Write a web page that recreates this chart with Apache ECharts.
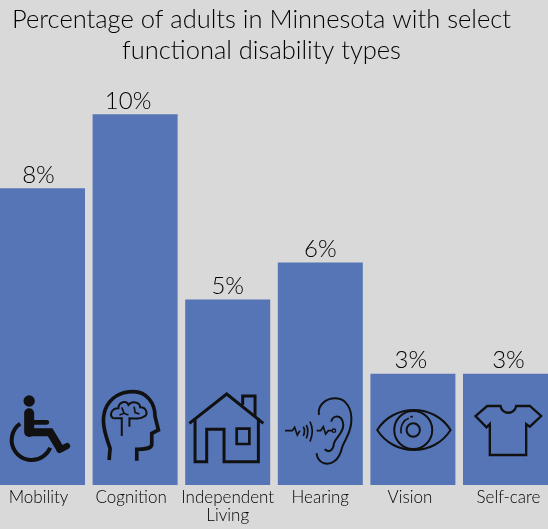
<!DOCTYPE html>
<html>
<head>
<meta charset="utf-8">
<style>
  html, body { margin: 0; padding: 0; background: #d9d9d9; }
  #chart { width: 548px; height: 529px; }
</style>
<script src="https://cdn.jsdelivr.net/npm/echarts@6/dist/echarts.min.js"></script>
</head>
<body>
<div id="chart"></div>
<script>
const categories = ['Mobility', 'Cognition', 'Independent\nLiving', 'Hearing', 'Vision', 'Self-care'];
const percents = [8, 10, 5, 6, 3, 3];

// icons are traced at 3x, origin = point on the baseline under the bar centre
const icons = [
  { origin: [127, 345], parts: [
    { d: 'M70,93 A17,17 0 1 1 104,93 A17,17 0 1 1 70,93 Z', fill: true },
    { d: 'M87,130 L87,186', w: 30, round: true },
    { d: 'M95,157 L140,157', w: 14, round: true },
    { d: 'M87,187 L150,187 L181,238', w: 24 },
    { d: 'M178,240 L201,228', w: 18, round: true },
    { d: 'M60,161 A60,60 0 1 0 150,233', w: 12 }
  ]},
  { origin: [405, 345], parts: [
    { d: 'M327,270 L330,235 C310,180 305,150 315,120 C330,80 365,65 400,65 C440,65 465,100 465,140 L475,180 L455,190 L455,225 C450,238 430,238 410,238 L410,272', w: 11 },
    { d: 'M340,145 C325,135 335,115 355,115 C355,95 380,90 385,105 C395,92 420,95 420,112 C442,112 445,138 430,140 C420,148 400,145 388,145 L388,170', w: 6 },
    { d: 'M365,198 L365,145 L340,145', w: 6 },
    { d: 'M365,112 L372,130 M358,135 L372,130 L385,135 M402,110 L405,128 L418,132', w: 5 }
  ]},
  { origin: [683, 345], parts: [
    { d: 'M568,160 L680,72 L790,160', w: 9 },
    { d: 'M728,105 L728,78 L765,78 L765,140', w: 9 },
    { d: 'M585,145 L585,275 L620,275 L620,178 L672,178 L672,275 L775,275 L775,145', w: 9 },
    { d: 'M710,176 L748,176 L748,222 L710,222 Z', w: 8 }
  ]},
  { origin: [139, 405], parts: [
    { d: 'M135,195 C130,165 155,145 185,145 C215,145 235,175 232,215 C230,250 215,265 205,290 C195,335 170,345 150,340 C135,335 128,320 128,310', w: 6 },
    { d: 'M172,215 C175,195 205,190 208,225 C208,250 185,262 180,280 C178,300 165,310 152,298', w: 6 },
    { d: 'M33,242 L55,242 L62,232 L70,255 L78,242', w: 5 },
    { d: 'M88,230 Q95,242 88,258 M97,225 Q106,242 97,265 M108,215 Q122,242 108,275', w: 5 },
    { d: 'M128,242 L140,242 L148,230 L155,252 L163,242 L175,242', w: 5 },
    { d: 'M175,242 A5,5 0 1 1 185,242 A5,5 0 1 1 175,242 Z', w: 4 }
  ]},
  { origin: [417, 405], parts: [
    { d: 'M310,240 C360,160 480,160 530,240 C480,320 360,320 310,240 Z', w: 6 },
    { d: 'M361,240 A57,57 0 1 1 475,240 A57,57 0 1 1 361,240 Z', w: 6 },
    { d: 'M398,240 A20,20 0 1 1 438,240 A20,20 0 1 1 398,240 Z', w: 6 },
    { d: 'M382,250 C378,225 390,210 405,205', w: 5 },
    { d: 'M409,200 L417,200', w: 5 }
  ]},
  { origin: [695, 405], parts: [
    { d: 'M680,168 C685,195 722,195 727,168 L768,168 L802,198 L768,230 L757,222 L757,315 L648,315 L648,222 L638,232 L605,198 L640,168 Z', w: 7 }
  ]}
];

const textFont = 'Lato';
const inkColor = '#000000';
const iconColor = '#111111';

// labels in the picture are not quite centred on their bars
const valueLabelShift = [-4, -7, 0, 0, -2, 3];
const axisLabelShift = [-4, -4, 0, 0, -3, 3];

const myChart = echarts.init(document.getElementById('chart'), null, { renderer: 'canvas' });

function renderIcon(params, api) {
  const icon = icons[params.dataIndex];
  const base = api.coord([api.value(0), 0]);
  return {
    type: 'group',
    x: base[0] - icon.origin[0] / 3,
    y: base[1] - icon.origin[1] / 3,
    scaleX: 1 / 3,
    scaleY: 1 / 3,
    children: icon.parts.map(function (p) {
      return {
        type: 'path',
        shape: { pathData: p.d },
        style: p.fill
          ? { fill: iconColor, stroke: null }
          : { fill: null, stroke: iconColor, lineWidth: p.w, lineJoin: 'miter', lineCap: p.round ? 'round' : 'butt' }
      };
    })
  };
}

// rich styles that push an axis label sideways with padding
const axisRich = {};
axisLabelShift.forEach(function (s, i) {
  axisRich['c' + i] = {
    fontFamily: textFont,
    fontSize: 17,
    fontWeight: 300,
    lineHeight: 18,
    color: inkColor,
    padding: s < 0 ? [0, -2 * s, 0, 0] : [0, 0, 0, 2 * s]
  };
});

myChart.setOption({
  backgroundColor: '#d9d9d9',
  animation: false,
  title: {
    text: 'Percentage of adults in Minnesota with select\nfunctional disability types',
    left: 256.5,
    textAlign: 'center',
    top: -1,
    textStyle: {
      fontFamily: textFont,
      fontWeight: 300,
      fontSize: 25.5,
      lineHeight: 31,
      color: inkColor
    }
  },
  grid: { left: -3.8, width: 555.6, top: 40, bottom: 44, outerBoundsMode: 'none' },
  xAxis: {
    type: 'category',
    data: categories,
    axisLine: { show: false },
    axisTick: { show: false },
    axisLabel: {
      interval: 0,
      margin: 4,
      fontFamily: textFont,
      fontSize: 17,
      fontWeight: 300,
      lineHeight: 18,
      color: inkColor,
      rich: axisRich,
      formatter: function (value, index) {
        return value.split('\n').map(function (line) {
          return '{c' + index + '|' + line + '}';
        }).join('\n');
      }
    }
  },
  yAxis: {
    type: 'value',
    min: 0,
    max: 12,
    show: false
  },
  series: [
    {
      type: 'bar',
      data: percents.map(function (v, i) {
        return { value: v, label: { offset: [valueLabelShift[i], 0] } };
      }),
      barWidth: 85,
      itemStyle: { color: '#5575b7' },
      label: {
        show: true,
        position: 'top',
        distance: 1,
        formatter: '{c}%',
        fontFamily: textFont,
        fontWeight: 300,
        fontSize: 24,
        color: inkColor
      }
    },
    {
      type: 'custom',
      data: percents.map(function (v, i) { return [i, v]; }),
      renderItem: renderIcon,
      silent: true,
      z: 5
    }
  ]
});
</script>
</body>
</html>
